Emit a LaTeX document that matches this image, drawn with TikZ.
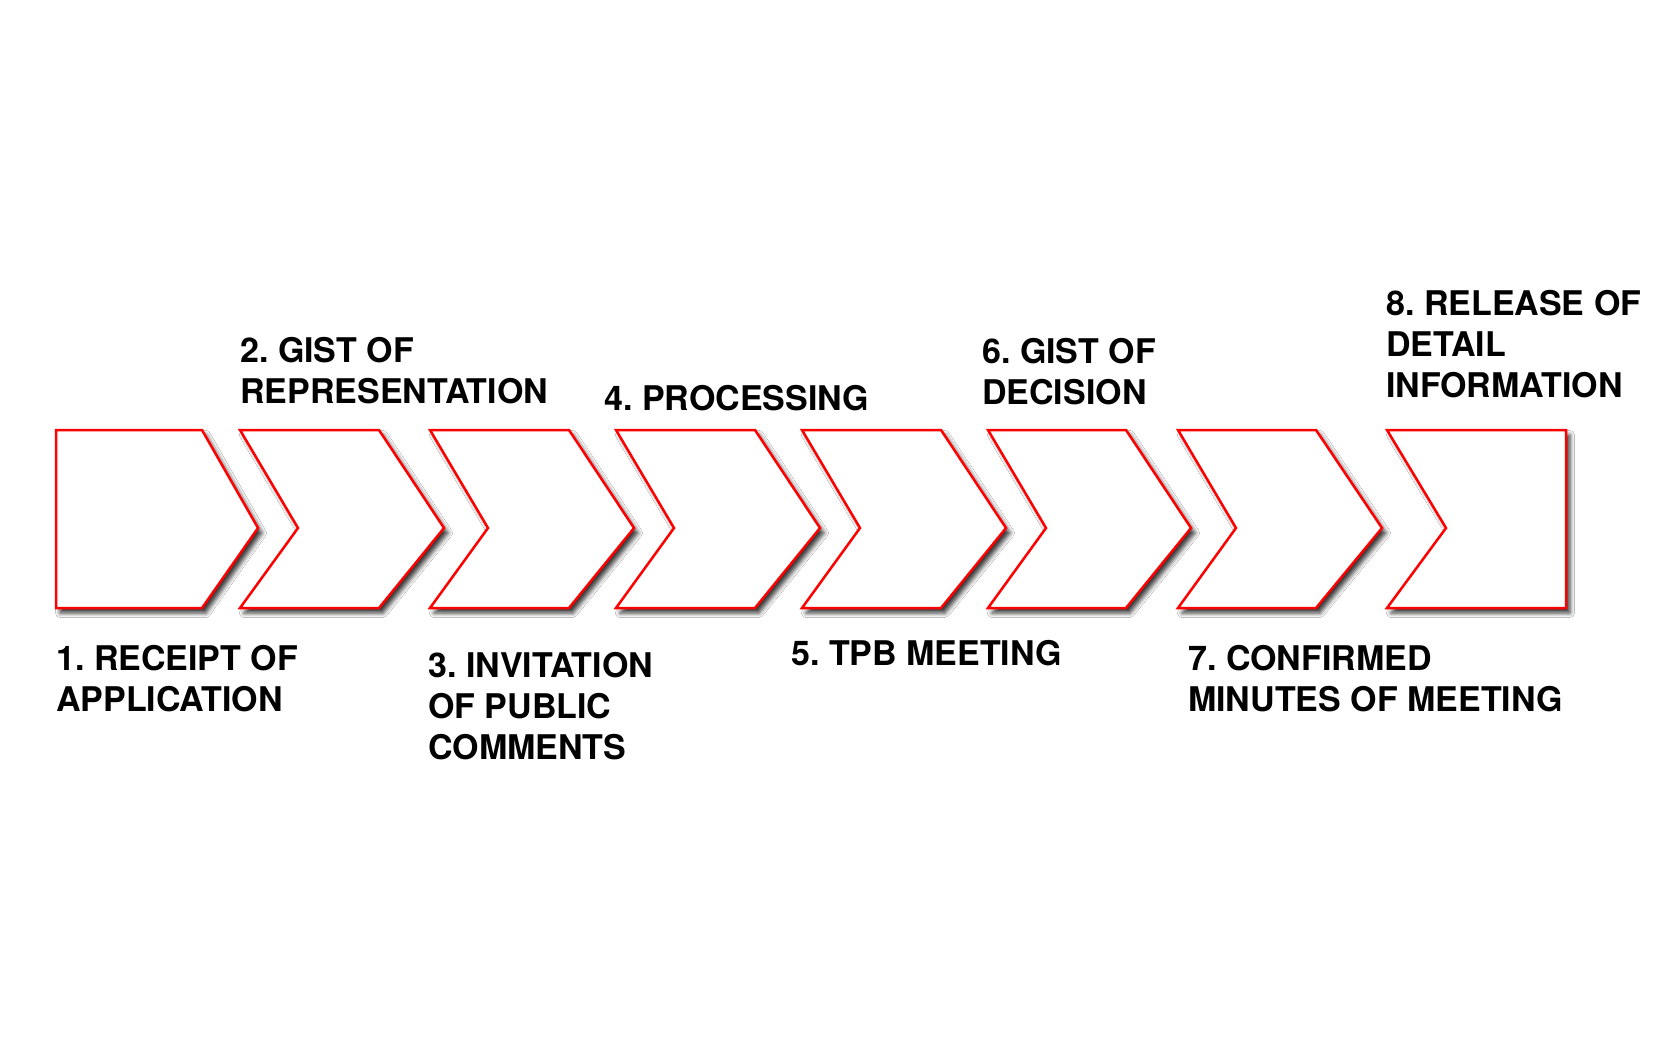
\documentclass[tikz,border=0pt]{standalone}
\usepackage{fontspec}
\setmainfont{TeX Gyre Heros}
\usetikzlibrary{shadows.blur}
\definecolor{chevred}{RGB}{255,0,0}
\frenchspacing
\tikzset{
  chev/.style={draw=chevred, line width=2.5pt, fill=white, line join=miter,
    blur shadow={shadow xshift=4pt, shadow yshift=-5pt, shadow blur radius=4.5pt, shadow opacity=80}},
  lbl/.style={font=\bfseries\fontsize{34}{41}\selectfont, align=left, inner sep=0pt, anchor=north west, text=black}
}
\begin{document}
\begin{tikzpicture}[x=1pt,y=-1pt]
\path[fill=white] (0,0) rectangle (1680,1050);
\useasboundingbox (0,0) rectangle (1680,1050);
% chevrons
\path[chev] (56,430) -- (202,430) -- (258,528) -- (202,608) -- (56,608) -- cycle;
\path[chev] (240,430) -- (379,430) -- (444,528) -- (379,608) -- (240,608) -- (298,528) -- cycle;
\path[chev] (430,430) -- (569,430) -- (634,528) -- (569,608) -- (430,608) -- (488,528) -- cycle;
\path[chev] (616,430) -- (755,430) -- (820,528) -- (755,608) -- (616,608) -- (674,528) -- cycle;
\path[chev] (802,430) -- (941,430) -- (1006,528) -- (941,608) -- (802,608) -- (860,528) -- cycle;
\path[chev] (988,430) -- (1126,430) -- (1191,528) -- (1126,608) -- (988,608) -- (1046,528) -- cycle;
\path[chev] (1178,430) -- (1316,430) -- (1382,528) -- (1316,608) -- (1178,608) -- (1236,528) -- cycle;
\path[chev] (1387,430) -- (1566,430) -- (1566,608) -- (1387,608) -- (1446,528) -- cycle;
% labels
\node[lbl] (t1) at (56,645) {1. RECEIPT OF\\APPLICATION};
\node[lbl] (t2) at (240,337) {2. GIST OF\\REPRESENTATION};
\node[lbl] (t3) at (428,652) {3. INVITATION\\OF PUBLIC\\COMMENTS};
\node[lbl] (t4) at (604,385) {4. PROCESSING};
\node[lbl] (t5) at (791,640) {5. TPB MEETING};
\node[lbl] (t6) at (982,338) {6. GIST OF\\DECISION};
\node[lbl] (t7) at (1188,645) {7. CONFIRMED\\MINUTES OF MEETING};
\node[lbl] (t8) at (1386,290) {8. RELEASE OF\\DETAIL\\INFORMATION};
\end{tikzpicture}
\end{document}
